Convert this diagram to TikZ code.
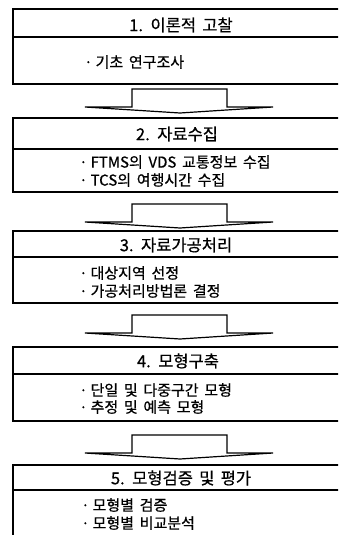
\documentclass[tikz,border=0pt]{standalone}
\usepackage{fontspec}
\setmainfont[WordSpace=1.7,FakeBold=0.6]{Noto Sans CJK KR}
\newcommand{\bul}{·\hspace{3pt}}
\begin{document}
\begin{tikzpicture}[x=1pt,y=-1pt,
  frame/.style={line width=1.2pt,draw=black},
  ttl/.style={font=\fontsize{16.5}{18}\selectfont,inner sep=0pt,anchor=center},
  itm/.style={font=\fontsize{15}{17}\selectfont,inner sep=0pt,anchor=west},
  blk/.style={line width=1.2pt,draw=black,line join=miter}]
\useasboundingbox (0,0) rectangle (338,535);
\clip (0,0) rectangle (338,535);
\fill[white] (0,0) rectangle (338,535);
% boxes: top, divider, bottom
\foreach \t/\d/\b in {9/37/84, 118/149/192, 231/257/303, 347/374/421, 465/490/560}{
  \draw[frame] (13,\t) rectangle (362,\b);
  \draw[frame] (13,\d) -- (362,\d);
}
% block arrows
\foreach \s in {89,204,315,435}{
  \draw[blk] (132,\s+18) -- (132,\s) -- (227,\s) -- (227,\s+18) -- (273,\s+18)
    -- (180,\s+24) -- (85,\s+18) -- cycle;
}
% titles
\node[ttl] (t1) at (181,25) {1. 이론적 고찰};
\node[ttl] (t2) at (177,134) {2. 자료수집};
\node[ttl] (t3) at (176,245) {3. 자료가공처리};
\node[ttl] (t4) at (178,361) {4. 모형구축};
\node[ttl] (t5) at (181,478) {5. 모형검증 및 평가};
% items
\node[itm] (i11) at (84,62) {\bul 기초 연구조사};
\node[itm] (i21) at (79,162) {\bul FTMS의 VDS 교통정보 수집};
\node[itm] (i22) at (79,180) {\bul TCS의 여행시간 수집};
\node[itm] (i31) at (79,273) {\bul 대상지역 선정};
\node[itm] (i32) at (79,291) {\bul 가공처리방법론 결정};
\node[itm] (i41) at (79,390) {\bul 단일 및 다중구간 모형};
\node[itm] (i42) at (79,407) {\bul 추정 및 예측 모형};
\node[itm] (i51) at (81,505) {\bul 모형별 검증};
\node[itm] (i52) at (81,523) {\bul 모형별 비교분석};
\end{tikzpicture}
\end{document}
